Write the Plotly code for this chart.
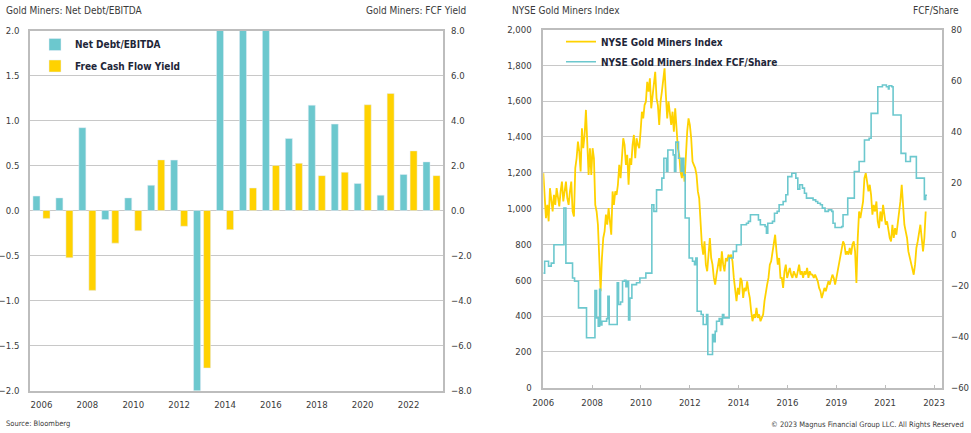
import pandas as pd
import plotly.graph_objects as go

# ---------------- Left panel data ----------------
years = list(range(2006, 2024))
net_debt_ebitda = [0.16, 0.14, 0.92, -0.10, 0.14, 0.28, 0.56, -2.6, 2.6, 3.2, 2.4,
                   0.80, 1.17, 0.96, 0.30, 0.17, 0.40, 0.54]
fcf_yield = [-0.35, -2.1, -3.55, -1.45, -0.9, 2.25, -0.7, -7.0, -0.85, 1.0, 2.0,
             2.1, 1.55, 1.7, 4.7, 5.2, 2.65, 1.55]
bar_tick_years = list(range(2006, 2023, 2))

# ---------------- Right panel data ----------------
gdm_start, gdm_end = "2006-01-01", "2023-02-25"
gdm_index = [
    1198, 1058, 947, 1021, 929, 1114, 1040, 984, 1077, 1021, 1114, 1058, 1012, 1096, 1151, 1040,
    1114, 1151, 1058, 1021, 1096, 1151, 984, 956, 1226, 1281, 1374, 1318, 1207, 1448, 1337, 1411,
    1551, 1356, 1188, 1337, 1188, 1337, 1281, 1021, 984, 910, 724, 539, 724, 836, 873, 966,
    910, 1003, 929, 854, 1096, 1021, 1096, 1077, 1133, 1244, 1170, 1318, 1393, 1356, 1244, 1300,
    1133, 1281, 1244, 1356, 1411, 1281, 1393, 1356, 1337, 1430, 1541, 1504, 1578, 1597, 1708, 1653,
    1727, 1560, 1634, 1690, 1764, 1616, 1578, 1467, 1597, 1653, 1727, 1783, 1634, 1504, 1597, 1541,
    1467, 1541, 1430, 1560, 1411, 1337, 1300, 1207, 1170, 1244, 1151, 1318, 1430, 1504, 1467, 1393,
    1263, 1244, 1226, 1188, 1096, 1058, 910, 799, 743, 817, 687, 650, 743, 836, 724, 687,
    613, 576, 631, 687, 724, 650, 761, 687, 650, 724, 706, 743, 724, 743, 706, 613,
    539, 483, 557, 520, 613, 594, 501, 557, 539, 594, 539, 501, 427, 371, 409, 390,
    446, 390, 409, 371, 390, 409, 483, 539, 576, 613, 687, 706, 761, 817, 854, 761,
    687, 724, 613, 613, 557, 650, 687, 613, 650, 669, 631, 613, 650, 631, 613, 650,
    687, 631, 650, 613, 650, 631, 669, 613, 650, 631, 631, 613, 631, 613, 594, 557,
    539, 501, 539, 557, 539, 576, 594, 576, 613, 631, 613, 576, 613, 650, 687, 724,
    761, 817, 799, 743, 761, 743, 780, 743, 799, 817, 761, 585, 836, 984, 947, 1003,
    1040, 1170, 1198, 1151, 1096, 1133, 1077, 966, 1021, 984, 1040, 929, 891, 984, 929, 1021,
    947, 910, 929, 873, 836, 817, 910, 836, 891, 854, 910, 984, 1040, 1133, 1021, 910,
    873, 836, 761, 724, 687, 650, 631, 687, 780, 817, 873, 910, 836, 761, 836, 984,
]

fcf_dates = [
    "2006-01-01", "2006-01-23", "2006-03-28", "2006-05-11", "2006-06-24", "2006-12-05",
    "2007-01-06", "2007-04-25", "2007-05-28", "2007-08-01", "2007-12-10", "2008-04-26",
    "2008-05-23", "2008-06-19", "2008-07-11", "2008-07-27", "2008-08-18", "2008-11-03",
    "2008-11-24", "2008-12-16", "2009-04-26", "2009-05-18", "2009-06-20", "2009-07-22",
    "2009-08-24", "2009-09-15", "2009-10-07", "2009-10-29", "2009-11-19", "2009-12-22",
    "2010-03-08", "2010-05-02", "2010-08-08", "2010-11-14", "2010-12-17", "2011-01-30",
    "2011-04-27", "2011-05-30", "2011-07-12", "2011-08-03", "2011-10-29", "2011-11-20",
    "2011-12-12", "2012-01-25", "2012-03-08", "2012-03-30", "2012-04-21", "2012-05-13",
    "2012-07-17", "2012-09-10", "2012-10-13", "2012-11-04", "2012-11-25", "2013-01-30",
    "2013-03-04", "2013-04-28", "2013-05-19", "2013-08-04", "2013-08-26", "2013-09-17",
    "2013-10-09", "2013-11-21", "2013-12-24", "2014-01-14", "2014-02-05", "2014-05-03",
    "2014-07-08", "2014-09-01", "2014-11-16", "2015-02-11", "2015-03-15", "2015-04-17",
    "2015-08-26", "2015-09-27", "2015-12-13", "2016-01-04", "2016-01-26", "2016-04-12",
    "2016-05-15", "2016-06-28", "2016-07-30", "2016-10-04", "2016-11-17", "2016-12-19",
    "2017-02-23", "2017-04-30", "2017-06-01", "2017-07-03", "2017-08-16", "2017-09-18",
    "2017-10-21", "2018-02-06", "2018-03-21", "2018-04-23", "2018-06-06", "2018-07-08",
    "2018-08-21", "2018-10-15", "2018-12-08", "2018-12-30", "2019-02-01", "2019-05-21",
    "2019-06-12", "2019-08-28", "2019-12-14", "2020-03-01", "2020-05-28", "2020-08-12",
    "2020-09-14", "2021-01-01", "2021-03-18", "2021-05-22", "2021-06-24", "2021-07-05",
    "2021-08-18", "2021-09-09", "2022-01-17", "2022-04-04", "2022-06-19", "2022-09-25",
    "2023-02-03", "2023-02-25", "2023-03-18",
]
fcf_per_share = [
    -15.2, -10.6, -12.5, -11.3, -4.1, 10.2,
    -11.3, -17.1, -18.4, -28.8, -40.5, -22.0,
    -32.7, -36.0, -21.5, -35.5, -34.0, -33.0,
    -24.3, -35.3, -19.0, -27.5, -26.5, -18.4,
    -18.0, -20.5, -18.4, -33.5, -25.0, -19.7,
    -19.0, -17.1, -15.2, 11.5, 8.9, 17.3,
    21.9, 29.7, 24.5, 32.9, 31.0, 24.5,
    36.0, 29.7, 24.5, 29.7, 23.2, 6.3,
    -9.3, -10.6, -11.9, -9.3, -30.1, -31.4,
    -35.3, -31.4, -47.0, -39.2, -42.0, -38.0,
    -34.0, -33.0, -35.3, -31.4, -32.7, -9.3,
    -6.7, -4.1, 3.7, 4.3, 5.0, 7.6,
    5.6, 3.7, 3.0, 0.4, 4.3, 5.0,
    8.2, 8.9, 11.5, 12.8, 15.4, 22.5,
    23.8, 21.9, 17.6, 19.3, 18.0, 16.0,
    14.1, 13.4, 12.8, 12.1, 11.5, 10.2,
    8.9, 9.5, 8.9, 4.3, 2.6, 3.0,
    7.6, 14.1, 24.5, 28.4, 36.8, 37.5,
    47.2, 57.6, 58.3, 57.6, 56.8, 58.0,
    57.6, 46.6, 31.6, 28.4, 30.3, 21.9,
    13.6, 15.2, 15.2,
]

# ---------------- Styling ----------------
TEAL = "#6CC8CE"
YELLOW = "#FFD200"
GRID = "#C8C8C8"
FRAME = "#BDBDBD"
TXT = "#3A3A3A"
LEG = "#1E2638"
FONT = "DejaVu Sans Condensed, Liberation Sans Narrow, Liberation Sans, Arial, sans-serif"
W, H = 971, 433


def px_x(v):
    return v / W


def px_y(v):
    return 1 - v / H


gdm_dates = pd.date_range(gdm_start, gdm_end, periods=len(gdm_index))

fig = go.Figure()
fig.add_trace(go.Bar(x=years, y=net_debt_ebitda, name="Net Debt/EBITDA",
                     marker=dict(color=TEAL), offsetgroup="1",
                     xaxis="x", yaxis="y", legend="legend"))
fig.add_trace(go.Bar(x=years, y=fcf_yield, name="Free Cash Flow Yield",
                     marker=dict(color=YELLOW), offsetgroup="2",
                     xaxis="x", yaxis="y2", legend="legend3"))
fig.add_trace(go.Scatter(x=gdm_dates, y=gdm_index, name="NYSE Gold Miners Index",
                         mode="lines", line=dict(color=YELLOW, width=1.8),
                         xaxis="x2", yaxis="y3", legend="legend2"))
fig.add_trace(go.Scatter(x=fcf_dates, y=fcf_per_share, name="NYSE Gold Miners Index FCF/Share",
                         mode="lines", line=dict(color=TEAL, width=1.6, shape="hv"),
                         xaxis="x2", yaxis="y4", legend="legend4"))

axfont = dict(family=FONT, size=9.5, color=TXT)
legfont = dict(family=FONT, size=10, color=LEG, weight="bold")

left_dom_x = [px_x(30), px_x(443)]
left_dom_y = [px_y(390.5), px_y(30.5)]
right_dom_x = [px_x(543.3), px_x(942)]
right_dom_y = [px_y(387.7), px_y(29.5)]

fig.update_layout(
    width=W, height=H,
    margin=dict(l=0, r=0, t=0, b=0, autoexpand=False),
    paper_bgcolor="white", plot_bgcolor="white",
    barmode="group", bargap=0.127, bargroupgap=0.3,
    font=axfont, showlegend=True,
    xaxis=dict(domain=left_dom_x, anchor="y", range=[2005.5, 2023.5], automargin=False,
               tickvals=bar_tick_years, ticktext=[str(y) for y in bar_tick_years],
               showgrid=False, zeroline=False, showline=True, mirror=True,
               linecolor=FRAME, linewidth=1.5, ticks="", ticklabelstandoff=4, tickfont=axfont),
    yaxis=dict(domain=left_dom_y, anchor="x", range=[-2, 2], dtick=0.5, tickformat=".1f",
               showgrid=True, gridcolor=GRID, gridwidth=1.2, zeroline=False, automargin=False,
               showline=True, mirror=True, linecolor=FRAME, linewidth=1.5,
               ticks="", ticklabelstandoff=7, tickfont=axfont),
    yaxis2=dict(overlaying="y", side="right", anchor="x", range=[-8, 8], dtick=2,
                tickformat=".1f", showgrid=False, zeroline=False, showline=False, automargin=False,
                ticks="", ticklabelstandoff=7, tickfont=axfont),
    xaxis2=dict(domain=right_dom_x, anchor="y3", type="date", automargin=False,
                range=["2006-01-01", "2023-11-19"], tick0="2006-01-01",
                dtick=800 * 86400000, tickformat="%Y",
                showgrid=False, zeroline=False, showline=True, mirror=True,
                linecolor=FRAME, linewidth=1.5, ticks="inside", ticklen=3,
                tickcolor=FRAME, ticklabelstandoff=5, tickfont=axfont),
    yaxis3=dict(domain=right_dom_y, anchor="x2", range=[0, 2000], dtick=200, automargin=False,
                tickformat=",", showgrid=True, gridcolor=GRID, gridwidth=1.2,
                zeroline=False, showline=True, mirror=True, linecolor=FRAME, linewidth=1.5,
                ticks="", ticklabelstandoff=8, tickfont=axfont),
    yaxis4=dict(overlaying="y3", side="right", anchor="x2", range=[-60, 80], dtick=20,
                showgrid=False, zeroline=False, showline=False, ticks="", automargin=False,
                ticklabelstandoff=8, tickfont=axfont),
    legend=dict(x=px_x(35), y=px_y(44.5), xanchor="left", yanchor="middle",
                bgcolor="rgba(0,0,0,0)", font=legfont, itemwidth=30),
    legend3=dict(x=px_x(35), y=px_y(66), xanchor="left", yanchor="middle",
                 bgcolor="rgba(0,0,0,0)", font=legfont, itemwidth=30),
    legend2=dict(x=px_x(561), y=px_y(41.7), xanchor="left", yanchor="middle",
                 bgcolor="rgba(0,0,0,0)", font=legfont, itemwidth=30),
    legend4=dict(x=px_x(561), y=px_y(61.7), xanchor="left", yanchor="middle",
                 bgcolor="rgba(0,0,0,0)", font=legfont, itemwidth=30),
)

titlefont = dict(family=FONT, size=10, color=TXT)
smallfont = dict(family=FONT, size=7.5, color=TXT)
annots = [
    dict(text="Gold Miners: Net Debt/EBITDA", x=px_x(4), y=px_y(10), xanchor="left", font=titlefont),
    dict(text="Gold Miners: FCF Yield", x=px_x(468), y=px_y(10), xanchor="right", font=titlefont),
    dict(text="NYSE Gold Miners Index", x=px_x(510), y=px_y(10), xanchor="left", font=titlefont),
    dict(text="FCF/Share", x=px_x(961), y=px_y(10), xanchor="right", font=titlefont),
    dict(text="Source: Bloomberg", x=px_x(4), y=px_y(423), xanchor="left", font=smallfont),
    dict(text="© 2023 Magnus Financial Group LLC. All Rights Reserved", x=px_x(966), y=px_y(424),
         xanchor="right", font=smallfont),
]
for a in annots:
    fig.add_annotation(xref="paper", yref="paper", yanchor="middle", showarrow=False, **a)

fig.write_html("out.html", config={"displayModeBar": False},
               post_script="document.body.style.margin='0';")
